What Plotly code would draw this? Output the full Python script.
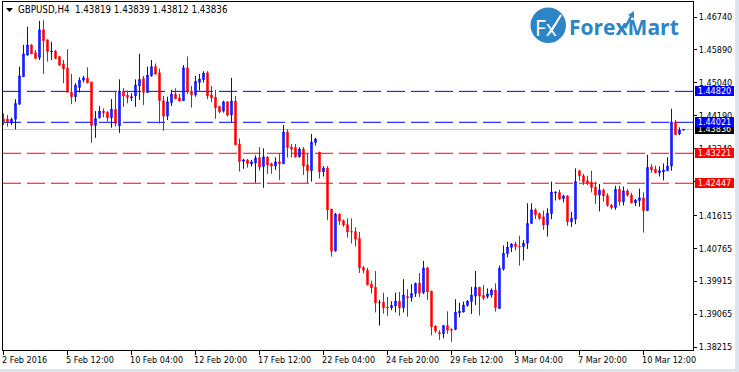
import plotly.graph_objects as go

opens = [1.4411,1.4411,1.4401,1.4410,1.4449,1.4520,1.4576,1.4602,1.4582,1.4569,
1.4641,1.4615,1.4584,1.4586,1.4572,1.4553,1.4542,1.4480,1.4468,1.4492,
1.4511,1.4516,1.4506,1.4394,1.4414,1.4431,1.4428,1.4414,1.4436,1.4393,
1.4483,1.4472,1.4465,1.4470,1.4496,1.4515,1.4479,1.4522,1.4546,1.4530,
1.4458,1.4418,1.4453,1.4475,1.4465,1.4458,1.4543,1.4483,1.4473,1.4505,
1.4512,1.4530,1.4473,1.4467,1.4443,1.4431,1.4455,1.4421,1.4457,1.4346,
1.4301,1.4305,1.4295,1.4297,1.4311,1.4288,1.4312,1.4295,1.4289,1.4300,
1.4295,1.4377,1.4338,1.4337,1.4313,1.4333,1.4292,1.4277,1.4350,1.4325,
1.4274,1.4284,1.4178,1.4070,1.4165,1.4148,1.4138,1.4120,1.4120,1.4102,
1.4027,1.4020,1.3984,1.3976,1.3937,1.3937,1.3925,1.3923,1.3928,1.3940,
1.3923,1.3952,1.3949,1.3960,1.3987,1.3962,1.4026,1.3966,1.3876,1.3859,
1.3856,1.3877,1.3867,1.3867,1.3910,1.3912,1.3929,1.3939,1.3953,1.3976,
1.3955,1.3952,1.3956,1.3969,1.3921,1.4023,1.4063,1.4079,1.4088,1.4082,
1.4081,1.4090,1.4141,1.4176,1.4166,1.4158,1.4137,1.4166,1.4220,1.4221,
1.4205,1.4212,1.4145,1.4152,1.4277,1.4264,1.4251,1.4247,1.4235,1.4214,
1.4227,1.4213,1.4188,1.4182,1.4229,1.4197,1.4225,1.4214,1.4194,1.4200,
1.4207,1.4174,1.4287,1.4281,1.4272,1.4274,1.4277,1.4289,1.4403,1.4372,
1.43819]
highs = [1.4425,1.4421,1.4414,1.4462,1.4546,1.4602,1.4649,1.4604,1.4589,1.4664,
1.4666,1.4616,1.4610,1.4589,1.4573,1.4563,1.4591,1.4527,1.4503,1.4518,
1.4522,1.4544,1.4507,1.4431,1.4444,1.4438,1.4431,1.4462,1.4481,1.4513,
1.4490,1.4484,1.4477,1.4513,1.4579,1.4522,1.4546,1.4563,1.4554,1.4541,
1.4470,1.4468,1.4486,1.4490,1.4475,1.4550,1.4572,1.4496,1.4522,1.4527,
1.4534,1.4534,1.4496,1.4486,1.4444,1.4458,1.4456,1.4517,1.4470,1.4360,
1.4308,1.4307,1.4305,1.4317,1.4338,1.4335,1.4315,1.4298,1.4312,1.4322,
1.4395,1.4384,1.4346,1.4346,1.4338,1.4338,1.4322,1.4372,1.4362,1.4325,
1.4289,1.4289,1.4178,1.4168,1.4167,1.4151,1.4154,1.4154,1.4131,1.4119,
1.4031,1.4026,1.3993,1.4018,1.3943,1.3962,1.3951,1.3940,1.3962,1.3964,
1.3997,1.3971,1.3984,1.3988,1.4013,1.4044,1.4029,1.3967,1.3877,1.3865,
1.3878,1.3914,1.3870,1.3945,1.3936,1.3939,1.3943,1.3977,1.4018,1.3977,
1.3982,1.3973,1.3973,1.3986,1.4032,1.4084,1.4094,1.4090,1.4094,1.4109,
1.4098,1.4193,1.4193,1.4180,1.4169,1.4174,1.4180,1.4249,1.4222,1.4228,
1.4215,1.4213,1.4171,1.4283,1.4279,1.4269,1.4264,1.4277,1.4249,1.4243,
1.4231,1.4219,1.4191,1.4238,1.4238,1.4236,1.4230,1.4220,1.4204,1.4231,
1.4221,1.4318,1.4294,1.4290,1.4288,1.4296,1.4312,1.4437,1.4408,1.4389,
1.43839]
lows = [1.4395,1.4391,1.4395,1.4384,1.4447,1.4520,1.4574,1.4579,1.4565,1.4563,
1.4527,1.4559,1.4563,1.4565,1.4548,1.4503,1.4479,1.4449,1.4455,1.4479,
1.4505,1.4503,1.4349,1.4362,1.4412,1.4415,1.4404,1.4388,1.4391,1.4375,
1.4442,1.4451,1.4457,1.4442,1.4460,1.4447,1.4479,1.4520,1.4524,1.4399,
1.4380,1.4408,1.4444,1.4462,1.4457,1.4458,1.4475,1.4440,1.4468,1.4484,
1.4505,1.4462,1.4454,1.4411,1.4425,1.4427,1.4417,1.4403,1.4344,1.4275,
1.4282,1.4285,1.4288,1.4246,1.4277,1.4233,1.4269,1.4269,1.4279,1.4253,
1.4295,1.4311,1.4311,1.4311,1.4311,1.4266,1.4245,1.4249,1.4342,1.4257,
1.4262,1.4150,1.4055,1.4068,1.4137,1.4132,1.4104,1.4089,1.4081,1.4013,
1.4012,1.3982,1.3960,1.3911,1.3877,1.3908,1.3902,1.3917,1.3911,1.3902,
1.3911,1.3900,1.3939,1.3951,1.3951,1.3958,1.3943,1.3852,1.3858,1.3840,
1.3844,1.3856,1.3835,1.3865,1.3898,1.3911,1.3926,1.3907,1.3930,1.3903,
1.3943,1.3947,1.3949,1.3913,1.3920,1.4019,1.4053,1.4067,1.4071,1.4032,
1.4045,1.4075,1.4139,1.4152,1.4150,1.4124,1.4107,1.4152,1.4200,1.4202,
1.4195,1.4135,1.4132,1.4139,1.4251,1.4240,1.4240,1.4221,1.4191,1.4172,
1.4197,1.4184,1.4177,1.4176,1.4187,1.4187,1.4210,1.4193,1.4186,1.4184,
1.4117,1.4174,1.4272,1.4270,1.4262,1.4252,1.4277,1.4277,1.4370,1.4369,
1.43812]
closes = [1.4404,1.4403,1.4410,1.4451,1.4522,1.4579,1.4602,1.4579,1.4567,1.4641,
1.4613,1.4585,1.4586,1.4567,1.4550,1.4540,1.4480,1.4468,1.4498,1.4511,
1.4517,1.4504,1.4394,1.4412,1.4431,1.4427,1.4414,1.4436,1.4399,1.4483,
1.4470,1.4466,1.4468,1.4498,1.4513,1.4479,1.4524,1.4546,1.4527,1.4458,
1.4418,1.4455,1.4475,1.4463,1.4457,1.4543,1.4483,1.4473,1.4508,1.4514,
1.4529,1.4470,1.4465,1.4440,1.4429,1.4455,1.4421,1.4457,1.4344,1.4301,
1.4305,1.4295,1.4300,1.4310,1.4287,1.4313,1.4292,1.4289,1.4300,1.4295,
1.4377,1.4337,1.4333,1.4313,1.4333,1.4289,1.4277,1.4351,1.4359,1.4274,
1.4284,1.4176,1.4069,1.4165,1.4147,1.4137,1.4119,1.4119,1.4100,1.4026,
1.4020,1.3982,1.3975,1.3936,1.3937,1.3923,1.3923,1.3929,1.3940,1.3923,
1.3956,1.3949,1.3960,1.3986,1.3961,1.4026,1.3964,1.3874,1.3863,1.3856,
1.3877,1.3865,1.3865,1.3912,1.3914,1.3930,1.3940,1.3956,1.3976,1.3953,
1.3948,1.3959,1.3969,1.3923,1.4025,1.4064,1.4080,1.4088,1.4081,1.4081,
1.4090,1.4141,1.4176,1.4163,1.4154,1.4137,1.4167,1.4222,1.4222,1.4204,
1.4212,1.4145,1.4154,1.4249,1.4264,1.4248,1.4245,1.4234,1.4214,1.4227,
1.4212,1.4188,1.4182,1.4229,1.4197,1.4225,1.4214,1.4194,1.4201,1.4207,
1.4174,1.4286,1.4279,1.4272,1.4277,1.4279,1.4289,1.4403,1.4370,1.4382,
1.43836]

price_ticks = [1.46740,1.45890,1.45040,1.44190,1.43340,1.42490,1.41615,1.40765,1.39915,1.39065,1.38215]
time_tick_bars = [0,16,32,48,64,80,96,112,128,144,160]
time_tick_labels = ["2 Feb 2016","5 Feb 12:00","10 Feb 04:00","12 Feb 20:00","17 Feb 12:00",
                    "22 Feb 04:00","24 Feb 20:00","29 Feb 12:00","3 Mar 04:00","7 Mar 20:00","10 Mar 12:00"]
level_values = [1.44820,1.44021,1.43221,1.42447]
level_colors = ["#0000ff","#0000ff","#ff0000","#ff0000"]
level_labels = ["1.44820","1.44021","1.43221","1.42447"]
label_bgs = ["#0000ff","#0000ff","#ff0000","#ff0000"]
bid_value = 1.43836
header = "GBPUSD,H4  1.43819 1.43839 1.43812 1.43836"

W, H = 739, 372
L, R, T, B = 3, 693, 2, 350
FONT = "DejaVu Sans Condensed, DejaVu Sans, sans-serif"
FS = 9

def px(x): return (x - L) / (R - L)
def py(y): return (B - y) / (B - T)

bars = list(range(len(opens)))
def pick(cond):
    idx = [i for i in bars if cond(opens[i], closes[i])]
    return dict(x=idx, open=[opens[i] for i in idx], high=[highs[i] for i in idx],
                low=[lows[i] for i in idx], close=[closes[i] for i in idx])

fig = go.Figure()
def candle(d, col, fill):
    side = dict(line=dict(color=col, width=1), fillcolor=fill)
    fig.add_trace(go.Candlestick(increasing=side, decreasing=side, whiskerwidth=0,
                                 hoverinfo="skip", showlegend=False, **d))
candle(pick(lambda o, c: c > o), "#0000ff", "#0a60ff")
candle(pick(lambda o, c: c < o), "#ff0000", "#ff0000")
candle(pick(lambda o, c: c == o), "#000000", "#000000")

shapes = [dict(type="line", xref="paper", yref="y", x0=0, x1=1, y0=bid_value, y1=bid_value,
               layer="below", line=dict(color="#c0c0c0", width=1))]
for v, c in zip(level_values, level_colors):
    shapes.append(dict(type="line", xref="paper", yref="y", x0=0, x1=1, y0=v, y1=v, layer="below",
                       line=dict(color=c, width=1, dash="18px,6px")))
# window edge
EDGE = "#dde6f0"
shapes.append(dict(type="rect", xref="paper", yref="paper", x0=px(735), x1=px(739), y0=py(372), y1=py(0),
                   fillcolor=EDGE, line=dict(width=0), layer="below"))
shapes.append(dict(type="rect", xref="paper", yref="paper", x0=px(0), x1=px(739), y0=py(372), y1=py(369),
                   fillcolor=EDGE, line=dict(width=0), layer="below"))
# logo
LOGO = "#2b85c6"
shapes.append(dict(type="circle", xref="paper", yref="paper", x0=px(530.5), x1=px(566), y0=py(43), y1=py(7.5),
                   fillcolor=LOGO, line=dict(width=0)))
shapes.append(dict(type="line", xref="paper", yref="paper", x0=px(550), y0=py(33), x1=px(561), y1=py(15),
                   line=dict(color="#ffffff", width=2)))
shapes.append(dict(type="path", xref="paper", yref="paper",
    path=f"M {px(624)} {py(27)} L {px(630)} {py(16)} L {px(628)} {py(15)} L {px(634)} {py(11)} L {px(634)} {py(19)} L {px(632)} {py(17)} L {px(626)} {py(29)} Z",
    fillcolor=LOGO, line=dict(width=0)))
# header triangle
shapes.append(dict(type="path", xref="paper", yref="paper",
    path=f"M {px(6)} {py(8)} L {px(13)} {py(8)} L {px(9.5)} {py(12)} Z",
    fillcolor="#000000", line=dict(width=0)))

ann = []
def text(x, y, s, size=FS, color="#000000", anchor="left", family=FONT, **kw):
    ann.append(dict(xref="paper", yref="paper", x=px(x), y=py(y), text=s, showarrow=False,
                    xanchor=anchor, yanchor="middle", borderpad=0, borderwidth=0,
                    font=dict(family=family, size=size, color=color), **kw))

text(18, 10, header.replace("  ", "&nbsp;&nbsp;"), size=9.7)
for b, s in zip(time_tick_bars, time_tick_labels):
    text(L + 4 * b - 1, 360, s)
def price_box(v, s, bg):
    ann.append(dict(xref="paper", yref="y", x=px(695), y=v, text=s, showarrow=False, xanchor="left",
                    yanchor="middle", width=39, height=10, align="center", bgcolor=bg, borderpad=0,
                    borderwidth=0, font=dict(family=FONT, size=FS, color="#ffffff")))
price_box(bid_value, f"{bid_value:.5f}", "#000000")
for v, s, bg in zip(level_values, level_labels, label_bgs):
    price_box(v, s, bg)
text(546, 28, "Fx", size=21, color="#ffffff", anchor="center", family="Open Sans")
text(569, 27, "<b>ForexMart</b>", size=21, color=LOGO, family="Open Sans")

y_top = 1.4718 - 0.0002583 * T
y_bot = 1.4718 - 0.0002583 * B

fig.update_layout(
    width=W, height=H, autosize=False, paper_bgcolor="#ffffff", plot_bgcolor="#ffffff",
    margin=dict(l=L, r=W - R, t=T, b=H - B, pad=0), shapes=shapes, annotations=ann,
    showlegend=False, boxgap=0.5,
    xaxis=dict(range=[-0.125, -0.125 + (R - L) / 4], tickmode="array", tickvals=time_tick_bars,
               ticktext=[""] * len(time_tick_bars), ticks="outside", ticklen=4, tickcolor="#000000",
               tickwidth=1, showgrid=False, zeroline=False, showline=True, linecolor="#000000",
               linewidth=1, mirror=True, rangeslider=dict(visible=False), fixedrange=True),
    yaxis=dict(range=[y_bot, y_top], side="right", tickmode="array", tickvals=price_ticks,
               ticktext=[f"{v:.5f}" for v in price_ticks], ticks="outside", ticklen=3,
               tickcolor="#000000", tickwidth=1, showgrid=False, zeroline=False, showline=True,
               linecolor="#000000", linewidth=1, mirror=True, fixedrange=True,
               tickfont=dict(family=FONT, size=FS, color="#000000")),
)
fig.write_html("out.html", config=dict(displayModeBar=False),
               post_script="document.body.style.margin='0';document.documentElement.style.overflow='hidden';")
